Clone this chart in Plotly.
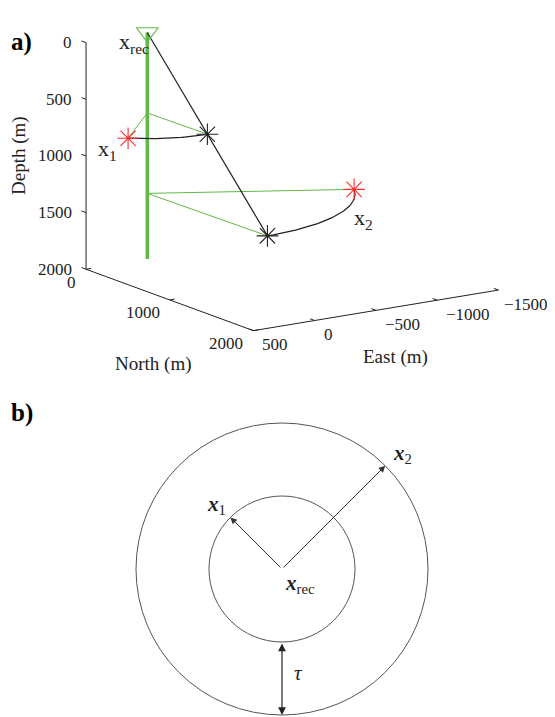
import numpy as np
import plotly.graph_objects as go

# ---------------- panel a) data (metres) ----------------
well_east = [0, 0]
well_north = [0, 0]
well_depth = [0, 2000]

rec_east, rec_north, rec_depth = 0, 0, 0

src_depth = [710, 1420]        # depth of x1, x2
src_radius = [700, 1400]       # horizontal distance from the well
src_azimuth = [45, -61]        # deg from north, positive to east (red x1, x2)
ray_azimuth = -1               # azimuth of the rotated (black) points

depth_ticks = [0, 500, 1000, 1500, 2000]
north_ticks = [0, 1000, 2000]
east_ticks = [500, 0, -500, -1000, -1500]

# ---------------- panel b) data ----------------
ring_radius = [1, 2]
arrow_angle = [135, 45]        # direction of x1, x2 arrows (deg)
arrow_labels = ['<b><i>x</i></b><sub>1</sub>', '<b><i>x</i></b><sub>2</sub>']

# ---------------- projection of the 3-D view (page pixels) ----------------
ORIGIN = (147.3, 32.5)
PE = (-0.1225, 0.0203)
PN = (0.0837, 0.0307)
PD = (0.0, 0.1133)


def proj(e, n, d):
    e, n, d = np.asarray(e, float), np.asarray(n, float), np.asarray(d, float)
    x = ORIGIN[0] + PE[0] * e + PN[0] * n + PD[0] * d
    y = ORIGIN[1] + PE[1] * e + PN[1] * n + PD[1] * d
    return x, y


def horiz(r, az):
    a = np.radians(az)
    return r * np.sin(a), r * np.cos(a)


GREEN = '#62b846'
RED = '#ff2a2a'
INK = '#222222'
SERIF = 'Liberation Serif'

fig = go.Figure()

# axis lines (box corner east=500, north=0)
e0, n1, d1 = 500, 2000, 2000
ax_e = [e0, e0, e0, -1500]
ax_n = [0, 0, n1, n1]
ax_d = [0, d1, d1, d1]
x, y = proj(ax_e, ax_n, ax_d)
fig.add_trace(go.Scatter(x=x, y=y, mode='lines', line=dict(color=INK, width=1)))

# tick marks
tx, ty = [], []
for d in depth_ticks:
    a = proj([e0, e0], [0, -55], [d, d])
    tx += list(a[0]) + [None]; ty += list(a[1]) + [None]
for n in north_ticks:
    a = proj([e0, e0 - 40], [n, n], [d1, d1])
    tx += list(a[0]) + [None]; ty += list(a[1]) + [None]
for e in east_ticks:
    a = proj([e, e], [n1, n1 - 55], [d1, d1])
    tx += list(a[0]) + [None]; ty += list(a[1]) + [None]
fig.add_trace(go.Scatter(x=tx, y=ty, mode='lines', line=dict(color=INK, width=1)))

# well
x, y = proj(well_east, well_north, well_depth)
fig.add_trace(go.Scatter(x=x, y=y, mode='lines', line=dict(color=GREEN, width=3.5)))

# green connectors, black arcs
for d, r, az in zip(src_depth, src_radius, src_azimuth):
    se, sn = horiz(r, az)
    be, bn = horiz(r, ray_azimuth)
    x, y = proj([se, 0, be], [sn, 0, bn], [d, d, d])
    fig.add_trace(go.Scatter(x=x, y=y, mode='lines', line=dict(color=GREEN, width=1)))
    ang = np.linspace(az, ray_azimuth, 60)
    ae, an = horiz(r, ang)
    x, y = proj(ae, an, np.full_like(ang, d))
    fig.add_trace(go.Scatter(x=x, y=y, mode='lines', line=dict(color=INK, width=1.2)))

# ray from receiver through rotated points
be, bn = horiz(src_radius[-1], ray_azimuth)
x, y = proj([rec_east, be], [rec_north, bn], [rec_depth, src_depth[-1]])
fig.add_trace(go.Scatter(x=x, y=y, mode='lines', line=dict(color=INK, width=1.2)))

# receiver
x, y = proj([rec_east], [rec_north], [rec_depth])
fig.add_trace(go.Scatter(x=x, y=y, mode='markers',
                         marker=dict(symbol='triangle-down-open', size=19,
                                     line=dict(color=GREEN, width=1.2), color=GREEN)))

# black (rotated) and red (true) sources
bpts = [horiz(r, ray_azimuth) for r in src_radius]
x, y = proj([p[0] for p in bpts], [p[1] for p in bpts], src_depth)
fig.add_trace(go.Scatter(x=x, y=y, mode='markers',
                         marker=dict(symbol='asterisk-open', size=18, color=INK,
                                     line=dict(color=INK, width=1.1))))
rpts = [horiz(r, a) for r, a in zip(src_radius, src_azimuth)]
rx, ry = proj([p[0] for p in rpts], [p[1] for p in rpts], src_depth)
fig.add_trace(go.Scatter(x=rx, y=ry, mode='markers',
                         marker=dict(symbol='asterisk-open', size=18, color=RED,
                                     line=dict(color=RED, width=1.1))))

ann = []
TICK = 17
tf = dict(family=SERIF, size=TICK, color=INK)
for d in depth_ticks:
    px, py = proj(e0, 0, d)
    ann.append(dict(x=float(px) - 12, y=float(py), text=str(d), xanchor='right', yanchor='middle'))
for n in north_ticks:
    px, py = proj(e0, n, d1)
    ann.append(dict(x=float(px) - 8, y=float(py) + 13, text=str(n), xanchor='right', yanchor='middle'))
for e in east_ticks:
    px, py = proj(e, n1, d1)
    lab = str(e).replace('-', '\u2212')
    ann.append(dict(x=min(float(px) + 7, 546 - 2.6 * TICK), y=float(py) + 14, text=lab,
                    xanchor='left', yanchor='middle'))
for a in ann:
    a['font'] = tf

lf = dict(family=SERIF, size=19, color=INK)
sf = dict(family=SERIF, size=22, color=INK)
ann.append(dict(x=19, y=156, text='Depth (m)', textangle=-90, xanchor='center', yanchor='middle', font=lf))
ann.append(dict(x=153, y=364, text='North (m)', xanchor='center', yanchor='middle', font=lf))
ann.append(dict(x=395, y=357, text='East (m)', xanchor='center', yanchor='middle', font=lf))
# source labels
ann.append(dict(x=151, y=43, text='x<sub>rec</sub>', xanchor='right', yanchor='middle', font=sf))
ann.append(dict(x=float(rx[0]) - 9, y=float(ry[0]) + 12, text='x<sub>1</sub>', xanchor='right',
                yanchor='middle', font=sf))
ann.append(dict(x=float(rx[1]) - 2, y=float(ry[1]) + 30, text='x<sub>2</sub>', xanchor='left',
                yanchor='middle', font=sf))
for a in ann:
    a.update(xref='x', yref='y', showarrow=False)

# panel labels
for lab, ly in (('a)', 42), ('b)', 413)):
    ann.append(dict(x=9, y=ly, text='<b>%s</b>' % lab, xref='x', yref='y', showarrow=False,
                    xanchor='left', yanchor='middle', font=dict(family=SERIF, size=25, color='black')))

# ---------------- panel b) ----------------
shapes = []
for r in ring_radius:
    shapes.append(dict(type='circle', xref='x2', yref='y2', x0=-r, y0=-r, x1=r, y1=r,
                       line=dict(color='#555555', width=1)))

mf = dict(family=SERIF, size=21, color=INK)
for ang, r, lab in zip(arrow_angle, ring_radius, arrow_labels):
    tip_x, tip_y = r * np.cos(np.radians(ang)), r * np.sin(np.radians(ang))
    ann.append(dict(x=tip_x, y=tip_y, ax=0, ay=0, xref='x2', yref='y2', axref='x2', ayref='y2',
                    showarrow=True, arrowhead=2, arrowsize=1.3, arrowwidth=1, arrowcolor='#333333',
                    text=''))
    ann.append(dict(x=tip_x, y=tip_y, xref='x2', yref='y2', showarrow=False, text=lab, font=mf,
                    xanchor='right' if tip_x < 0 else 'left', yanchor='bottom',
                    xshift=-2 if tip_x < 0 else 6, yshift=-3))
ann.append(dict(x=0, y=-ring_radius[1], ax=0, ay=-ring_radius[0], xref='x2', yref='y2',
                axref='x2', ayref='y2', showarrow=True, arrowhead=2, startarrowhead=2,
                arrowside='end+start', arrowsize=1.3, startarrowsize=1.3, arrowwidth=1.2,
                arrowcolor='#222222', text=''))
ann.append(dict(x=0.22, y=-1.42, xref='x2', yref='y2', showarrow=False, text='<i>\u03c4</i>', font=mf))
ann.append(dict(x=0.25, y=-0.2, xref='x2', yref='y2', showarrow=False,
                text='<b><i>x</i></b><sub>rec</sub>', font=mf))

# page geometry: the figure div sits 8 px inside the page (body margin)
OFF = 8
W, H = 555, 717
B_PX = 73.0
CX, CY = 282.0, 569.0

fig.update_layout(
    width=W - OFF, height=H - OFF,
    margin=dict(l=0, r=0, t=0, b=0),
    paper_bgcolor='white', plot_bgcolor='rgba(0,0,0,0)',
    showlegend=False,
    xaxis=dict(domain=[0, 1], range=[OFF, W], visible=False),
    yaxis=dict(domain=[0, 1], range=[H, OFF], visible=False),
    xaxis2=dict(domain=[0, 1], range=[(OFF - CX) / B_PX, (W - CX) / B_PX], visible=False, anchor='y2'),
    yaxis2=dict(domain=[0, 1], range=[-(H - CY) / B_PX, (CY - OFF) / B_PX], visible=False, anchor='x2'),
    annotations=ann,
    shapes=shapes,
)

fig.write_html("out.html")
